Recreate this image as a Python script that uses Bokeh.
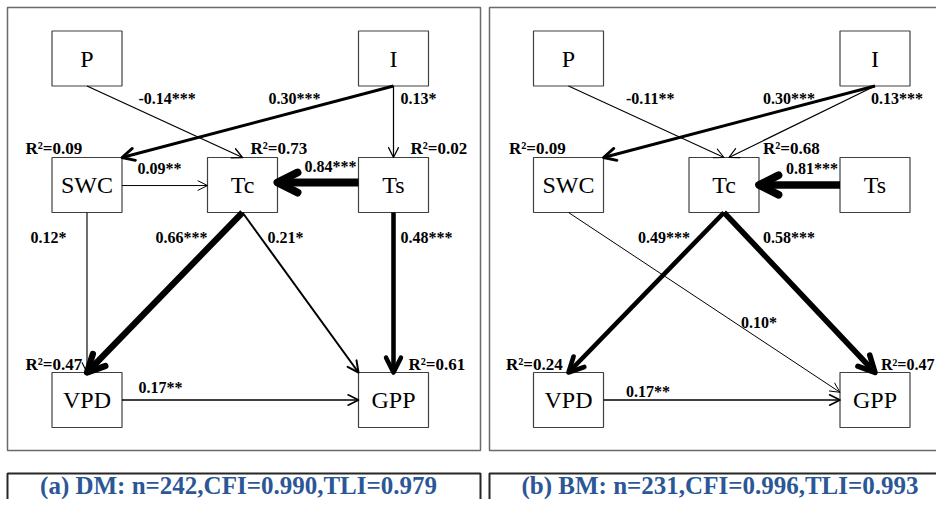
from bokeh.plotting import figure
from bokeh.models import Range1d, Arrow, OpenHead, ColumnDataSource
from bokeh.core.properties import value
from bokeh.embed import file_html
from bokeh.resources import INLINE

# ---------------- data ----------------
node_names = ["P", "I", "SWC", "Tc", "Ts", "VPD", "GPP"]

# (a) DM
dm_from = ["P", "I", "I", "SWC", "Ts", "SWC", "Tc", "Tc", "Ts", "VPD"]
dm_to = ["Tc", "SWC", "Ts", "Tc", "Tc", "VPD", "VPD", "GPP", "GPP", "GPP"]
dm_coef = [-0.14, 0.30, 0.13, 0.09, 0.84, 0.12, 0.66, 0.21, 0.48, 0.17]
dm_sig = ["***", "***", "*", "**", "***", "*", "***", "*", "***", "**"]
dm_r2_nodes = ["SWC", "Tc", "Ts", "VPD", "GPP"]
dm_r2 = [0.09, 0.73, 0.02, 0.47, 0.61]
dm_n, dm_cfi, dm_tli = 242, 0.990, 0.979

# (b) BM
bm_from = ["P", "I", "I", "Ts", "Tc", "Tc", "SWC", "VPD"]
bm_to = ["Tc", "SWC", "Tc", "Tc", "VPD", "GPP", "GPP", "GPP"]
bm_coef = [-0.11, 0.30, 0.13, 0.81, 0.49, 0.58, 0.10, 0.17]
bm_sig = ["**", "***", "***", "***", "***", "***", "*", "**"]
bm_r2_nodes = ["SWC", "Tc", "VPD", "GPP"]
bm_r2 = [0.09, 0.68, 0.24, 0.47]
bm_n, bm_cfi, bm_tli = 231, 0.996, 0.993

# ---------------- layout (reference pixels) ----------------
BOX_W, BOX_H = 70, 55
node_center = {
    "P": (86.5, 58), "I": (393, 58),
    "SWC": (86.5, 184.5), "Tc": (242, 184.5), "Ts": (393, 184.5),
    "VPD": (86.5, 399.5), "GPP": (393, 399.5),
}
panel_offset = [0, 481.5]

# edge anchors: (start fx, fy), (end fx, fy) relative to box (fy>0 downward)
dm_anchor = {
    ("P", "Tc"): ((0, 0.5), (0, -0.5)),
    ("I", "SWC"): ((0, 0.5), (0.5, -0.5)),
    ("I", "Ts"): ((0, 0.5), (0, -0.5)),
    ("SWC", "Tc"): ((0.5, 0.01), (-0.5, 0.01)),
    ("Ts", "Tc"): ((-0.5, -0.045), (0.5, -0.045)),
    ("SWC", "VPD"): ((0, 0.5), (0, -0.5)),
    ("Tc", "VPD"): ((0, 0.5), (0, -0.5)),
    ("Tc", "GPP"): ((0, 0.5), (-0.5, -0.5)),
    ("Ts", "GPP"): ((0, 0.5), (0, -0.5)),
    ("VPD", "GPP"): ((0.5, 0), (-0.5, 0)),
}
dm_label_pos = {
    ("P", "Tc"): (138, 98), ("I", "SWC"): (268, 98), ("I", "Ts"): (400, 98),
    ("SWC", "Tc"): (137, 168), ("Ts", "Tc"): (304, 166),
    ("SWC", "VPD"): (30, 237), ("Tc", "VPD"): (155, 237),
    ("Tc", "GPP"): (267, 237), ("Ts", "GPP"): (400, 237),
    ("VPD", "GPP"): (138, 387),
}
dm_r2_pos = {"SWC": (25, 148), "Tc": (250, 148), "Ts": (410, 148),
             "VPD": (25, 364), "GPP": (408, 364)}
dm_r2_size = {"SWC": "17px", "Tc": "17px", "Ts": "17px", "VPD": "17px", "GPP": "17px"}

bm_anchor = {
    ("P", "Tc"): ((0, 0.5), (0, -0.5)),
    ("I", "SWC"): ((0, 0.5), (0.5, -0.5)),
    ("I", "Tc"): ((0, 0.5), (0.07, -0.5)),
    ("Ts", "Tc"): ((-0.5, 0), (0.5, 0)),
    ("Tc", "VPD"): ((0, 0.5), (0, -0.5)),
    ("Tc", "GPP"): ((0, 0.5), (0, -0.5)),
    ("SWC", "GPP"): ((0, 0.5), (-0.5, -0.14)),
    ("VPD", "GPP"): ((0.5, 0), (-0.5, 0)),
}
bm_label_pos = {
    ("P", "Tc"): (144, 98), ("I", "SWC"): (281, 98), ("I", "Tc"): (389, 98),
    ("Ts", "Tc"): (304, 168), ("Tc", "VPD"): (156, 237),
    ("Tc", "GPP"): (281, 237), ("SWC", "GPP"): (259, 322),
    ("VPD", "GPP"): (144, 391),
}
bm_r2_pos = {"SWC": (27, 148), "Tc": (281, 148), "VPD": (24, 364), "GPP": (399, 364)}
bm_r2_size = {"SWC": "17px", "Tc": "17px", "VPD": "17px", "GPP": "16px"}

SERIF = value("Liberation Serif")
CAPTION_COLOR = "#2B5797"
CAPTION_Y = 485

p = figure(width=936, height=499, x_range=Range1d(0, 936), y_range=Range1d(499, 0),
           output_backend="svg", toolbar_location=None, min_border=0,
           x_axis_location=None, y_axis_location=None)
p.grid.visible = False
p.outline_line_color = None
p.background_fill_color = "white"
p.border_fill_color = "white"

# panel frames
p.quad(left=[7, 489], right=[480, 965], top=[7, 7], bottom=[450, 450],
       fill_color=None, line_color="#6a6a6a", line_width=1.5)
# caption frames
p.quad(left=[7, 489], right=[480, 965], top=[473, 473], bottom=[540, 540],
       fill_color=None, line_color="#262626", line_width=2)


def anchor(node, off, f):
    cx, cy = node_center[node]
    return cx + off + f[0] * BOX_W, cy + f[1] * BOX_H


def draw_panel(off, frm, to, coef, sig, anchors, lpos, r2n, r2, r2pos, r2size, caption):
    xs = [node_center[n][0] + off for n in node_names]
    ys = [node_center[n][1] for n in node_names]
    p.rect(x=xs, y=ys, width=BOX_W, height=BOX_H, fill_color="white",
           line_color="#404040", line_width=1.2)
    p.text(x=xs, y=ys, text=node_names, text_font=SERIF, text_font_size="24px",
           text_align="center", text_baseline="middle", text_color="black")
    for a, b, c, s in zip(frm, to, coef, sig):
        (sf, ef) = anchors[(a, b)]
        x0, y0 = anchor(a, off, sf)
        x1, y1 = anchor(b, off, ef)
        lw = max(1.0, 9.5 * abs(c))
        size = 8 + 1.5 * lw
        p.add_layout(Arrow(x_start=x0, y_start=y0, x_end=x1, y_end=y1,
                           line_width=lw, line_color="black",
                           end=OpenHead(size=size, line_width=lw, line_color="black",
                                        line_join="round", line_cap="round")))
    lx = [lpos[(a, b)][0] + off for a, b in zip(frm, to)]
    ly = [lpos[(a, b)][1] for a, b in zip(frm, to)]
    lt = [f"{c:.2f}{s}" for c, s in zip(coef, sig)]
    p.text(x=lx, y=ly, text=lt, text_font=SERIF, text_font_style="bold",
           text_font_size="16px", text_align="left", text_baseline="middle",
           text_color="black")
    src = ColumnDataSource(dict(
        x=[r2pos[n][0] + off for n in r2n],
        y=[r2pos[n][1] for n in r2n],
        t=[f"R\u00b2={v:.2f}" for v in r2],
        fs=[r2size[n] for n in r2n],
    ))
    p.text(x="x", y="y", text="t", text_font_size="fs", source=src,
           text_font=SERIF, text_font_style="bold", text_align="left",
           text_baseline="middle", text_color="black")
    p.text(x=[238 + off], y=[CAPTION_Y], text=[caption], text_font=SERIF,
           text_font_style="bold", text_font_size="25px", text_align="center",
           text_baseline="middle", text_color=CAPTION_COLOR)


draw_panel(panel_offset[0], dm_from, dm_to, dm_coef, dm_sig, dm_anchor, dm_label_pos,
           dm_r2_nodes, dm_r2, dm_r2_pos, dm_r2_size,
           f"(a) DM: n={dm_n},CFI={dm_cfi:.3f},TLI={dm_tli:.3f}")
draw_panel(panel_offset[1], bm_from, bm_to, bm_coef, bm_sig, bm_anchor, bm_label_pos,
           bm_r2_nodes, bm_r2, bm_r2_pos, bm_r2_size,
           f"(b) BM: n={bm_n},CFI={bm_cfi:.3f},TLI={bm_tli:.3f}")

open("out.html", "w").write(file_html(p, INLINE))
